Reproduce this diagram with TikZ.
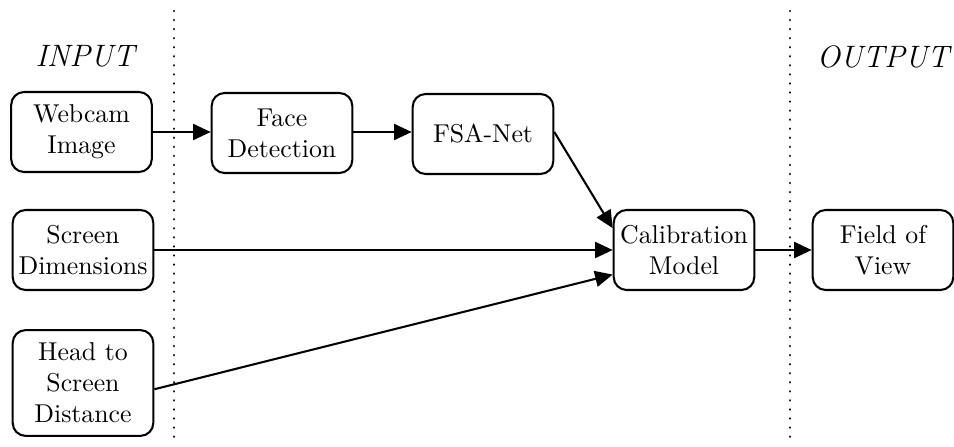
\documentclass[tikz,border=0pt]{standalone}
\usetikzlibrary{arrows.meta}
\begin{document}
\begin{tikzpicture}[x=0.3876pt, y=-0.3876pt,
  block/.style={draw, line width=0.8pt, rounded corners=5pt, align=center,
    minimum width=54.5pt, minimum height=31pt, inner xsep=1pt, inner ysep=4pt},
  flow/.style={line width=0.8pt, -{Triangle[length=6.8pt,width=6.2pt]}},
  divider/.style={line width=1pt, dash pattern=on 0.01pt off 3.5pt, line cap=round},
  heading/.style={font=\large\itshape}]
\useasboundingbox (0,0) rectangle (954,447);

% section dividers
\coordinate (d1top) at (174,11);
\coordinate (d1bot) at (174,442);
\coordinate (d2top) at (790,11);
\coordinate (d2bot) at (790,442);
\draw[divider] (d1top) -- (d1bot);
\draw[divider] (d2top) -- (d2bot);

% headings
\node[heading] (inp) at (85,56) {INPUT};
\node[heading] (outp) at (883,57) {OUTPUT};

% blocks
\node[block] (web)  at (81.5,132) {Webcam\\Image};
\node[block] (face) at (282,133) {Face\\Detection};
\node[block] (fsa)  at (483,134) {FSA-Net};
\node[block] (scr)  at (83,250) {Screen\\Dimensions};
\node[block, minimum height=41pt] (head) at (83,383) {Head to\\Screen\\Distance};
\node[block] (cal)  at (684,250) {Calibration\\Model};
\node[block] (fov)  at (883,250) {Field of\\View};

% connections
\draw[flow] (web.east) -- (web.east -| face.west);
\draw[flow] (face.east |- web.east) -- (fsa.west |- web.east);
\draw[flow] (fsa.east |- web.east) -- (cal.163);
\draw[flow] (scr.east) -- (cal.west);
\draw[flow] (head.-5) -- (cal.199);
\draw[flow] (cal.east) -- (fov.west);
\end{tikzpicture}
\end{document}
